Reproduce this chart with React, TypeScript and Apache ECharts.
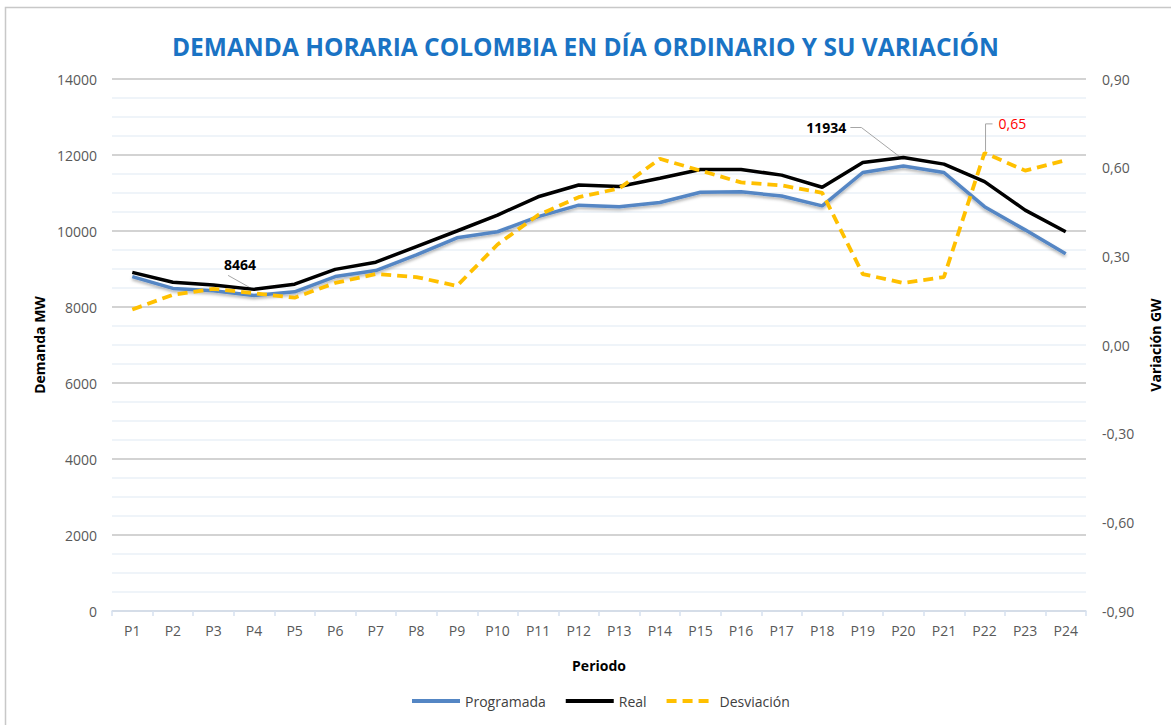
import React, { useEffect, useRef } from "react";
import * as echarts from "echarts";

const categories = ["P1","P2","P3","P4","P5","P6","P7","P8","P9","P10","P11","P12","P13","P14","P15","P16","P17","P18","P19","P20","P21","P22","P23","P24"];
const programada = [8800, 8490, 8430, 8300, 8400, 8800, 8960, 9370, 9820, 9980, 10380, 10680, 10640, 10750, 11020, 11030, 10920, 10660, 11540, 11710, 11540, 10640, 10030, 9400];
const real = [8910, 8650, 8580, 8464, 8600, 8990, 9180, 9590, 10000, 10420, 10900, 11210, 11170, 11390, 11620, 11620, 11470, 11150, 11800, 11934, 11760, 11300, 10550, 9980];
const desviacion = [0.12, 0.17, 0.19, 0.175, 0.16, 0.21, 0.24, 0.23, 0.2, 0.34, 0.44, 0.5, 0.53, 0.63, 0.59, 0.55, 0.54, 0.515, 0.24, 0.21, 0.23, 0.65, 0.59, 0.625];
const leftTicks = { min: 0, max: 14000, interval: 2000 };
const rightTicks = { min: -0.9, max: 0.9, interval: 0.3 };

const FONT = "'Open Sans', 'Noto Sans', sans-serif";

export default function App() {
  const ref = useRef<HTMLDivElement>(null);
  useEffect(() => {
    if (!ref.current) return;
    const chart = echarts.init(ref.current, null, { renderer: "svg" });
    const option: any = {
      animation: false,
      backgroundColor: "#ffffff",
      textStyle: { fontFamily: FONT },
      title: {
        text: "DEMANDA HORARIA COLOMBIA EN DÍA ORDINARIO Y SU VARIACIÓN",
        left: "center",
        top: 29,
        textStyle: { color: "#1a73c4", fontSize: 24.5, fontWeight: "bold", fontFamily: FONT },
      },
      grid: { left: 112, right: 85, top: 79, bottom: 114 },
      legend: {
        bottom: 12,
        left: 405,
        itemWidth: 48,
        itemHeight: 14,
        itemGap: 18,
        itemStyle: { opacity: 0 },
        lineStyle: { width: 4 },
        textStyle: { color: "#404040", fontSize: 14, fontFamily: FONT },
        data: ["Programada", "Real", "Desviación"],
      },
      xAxis: {
        type: "category",
        data: categories,
        boundaryGap: true,
        name: "Periodo",
        nameLocation: "middle",
        nameGap: 47,
        nameTextStyle: { color: "#000", fontWeight: "bold", fontSize: 14, fontFamily: FONT },
        axisLine: { lineStyle: { color: "#d6e1ef", width: 1.5 } },
        axisTick: { show: true, alignWithLabel: false, length: 5, lineStyle: { color: "#d6e1ef", width: 1.5 } },
        axisLabel: { color: "#595959", fontSize: 14, margin: 12, fontFamily: FONT, interval: 0 },
      },
      yAxis: [
        {
          type: "value",
          min: leftTicks.min,
          max: leftTicks.max,
          interval: leftTicks.interval,
          name: "Demanda MW",
          nameLocation: "middle",
          nameRotate: 90,
          nameGap: 66,
          nameTextStyle: { color: "#000", fontWeight: "bold", fontSize: 14, fontFamily: FONT },
          axisLine: { show: false },
          axisTick: { show: false },
          axisLabel: { color: "#595959", fontSize: 14, margin: 15, fontFamily: FONT, formatter: (v: number) => String(v) },
          splitLine: { show: true, lineStyle: { color: "#c4c4c4", width: 1.5 } },
          minorTick: { show: false, splitNumber: 4 },
          minorSplitLine: { show: true, lineStyle: { color: "#eaf0f7", width: 1.5 } },
        },
        {
          type: "value",
          min: rightTicks.min,
          max: rightTicks.max,
          interval: rightTicks.interval,
          name: "Variación GW",
          nameLocation: "middle",
          nameRotate: 90,
          nameGap: 62,
          nameTextStyle: { color: "#000", fontWeight: "bold", fontSize: 14, fontFamily: FONT },
          axisLine: { show: false },
          axisTick: { show: false },
          axisLabel: {
            color: "#595959",
            fontSize: 14,
            margin: 16,
            fontFamily: FONT,
            formatter: (v: number) => (Math.abs(v) < 1e-9 ? 0 : v).toFixed(2).replace(".", ","),
          },
          splitLine: { show: false },
        },
      ],
      series: [
        {
          name: "Programada",
          type: "line",
          data: programada,
          yAxisIndex: 0,
          symbol: "none",
          z: 2,
          lineStyle: {
            color: "#5486c4",
            width: 3.5,
            shadowColor: "rgba(0,0,0,0.3)",
            shadowBlur: 3,
            shadowOffsetY: 2,
          },
          itemStyle: { color: "#5486c4" },
        },
        {
          name: "Real",
          type: "line",
          data: real,
          yAxisIndex: 0,
          symbol: "none",
          z: 3,
          lineStyle: { color: "#000000", width: 3.5 },
          itemStyle: { color: "#000000" },
        },
        {
          name: "Desviación",
          type: "line",
          data: desviacion,
          yAxisIndex: 1,
          symbol: "none",
          z: 4,
          lineStyle: { color: "#ffc000", width: 3.8, type: [10, 6] },
          itemStyle: { color: "#ffc000" },
        },
      ],
    };
    chart.setOption(option);

    const p4 = chart.convertToPixel({ xAxisIndex: 0, yAxisIndex: 0 }, [3, real[3]]) as number[];
    const p20 = chart.convertToPixel({ xAxisIndex: 0, yAxisIndex: 0 }, [19, real[19]]) as number[];
    const p22 = chart.convertToPixel({ xAxisIndex: 0, yAxisIndex: 1 }, [21, desviacion[21]]) as number[];
    const lead = { stroke: "#a6a6a6", lineWidth: 1, fill: "none" };
    chart.setOption({
      graphic: [
        {
          type: "rect",
          silent: true,
          shape: { x: 5.5, y: 7.5, width: 1180, height: 740 },
          style: { fill: "none", stroke: "#c8c8c8", lineWidth: 1.5 },
          z: -10,
        },
        {
          type: "polyline",
          silent: true,
          shape: { points: [[p4[0] - 26, p4[1] - 14], [p4[0] - 1, p4[1]]] },
          style: lead,
        },
        {
          type: "text",
          silent: true,
          x: p4[0] - 14,
          y: p4[1] - 25,
          style: { text: String(real[3]), fill: "#000", font: `bold 14px ${FONT}`, align: "center", verticalAlign: "middle" },
        },
        {
          type: "polyline",
          silent: true,
          shape: { points: [[p20[0] - 53, p20[1] - 30], [p20[0] - 42, p20[1] - 30], [p20[0] - 4, p20[1] - 1]] },
          style: lead,
        },
        {
          type: "text",
          silent: true,
          x: p20[0] - 57,
          y: p20[1] - 30,
          style: { text: String(real[19]), fill: "#000", font: `bold 14px ${FONT}`, align: "right", verticalAlign: "middle" },
        },
        {
          type: "polyline",
          silent: true,
          shape: { points: [[p22[0] + 1, p22[1] - 2], [p22[0] + 1, p22[1] - 29], [p22[0] + 8, p22[1] - 29]] },
          style: lead,
        },
        {
          type: "text",
          silent: true,
          x: p22[0] + 14,
          y: p22[1] - 29,
          style: { text: desviacion[21].toFixed(2).replace(".", ","), fill: "#ff0000", font: `14px ${FONT}`, align: "left", verticalAlign: "middle" },
        },
      ],
    });

    return () => chart.dispose();
  }, []);
  return (
    <div
      ref={ref}
      style={{ position: "fixed", left: 0, top: 0, width: 1171, height: 725 }}
    />
  );
}
